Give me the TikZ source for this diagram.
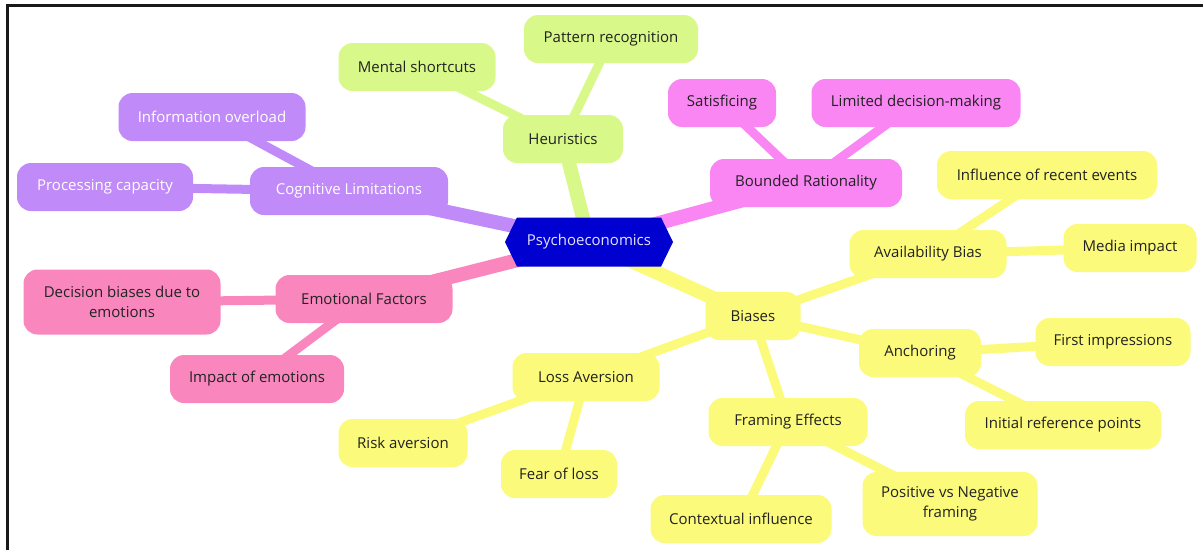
\documentclass[tikz,border=0pt]{standalone}
\usepackage{fontspec}
\setmainfont{Open Sans}
\usetikzlibrary{shapes.symbols,backgrounds}
\definecolor{cgreen}{HTML}{D8F98A}
\definecolor{cpurple}{HTML}{C08AF8}
\definecolor{cmagenta}{HTML}{F986F3}
\definecolor{cpink}{HTML}{F987BE}
\definecolor{cyellow}{HTML}{FBFA7A}
\definecolor{cblue}{HTML}{0000D0}
\definecolor{ctext}{HTML}{222222}
\definecolor{clight}{HTML}{E2E2FF}
\tikzset{
  box/.style={rounded corners=14pt, minimum height=48pt, inner sep=2pt, align=center,
    font=\fontsize{15}{20}\selectfont, text=ctext},
  gbox/.style={box, fill=cgreen},
  pbox/.style={box, fill=cpurple, text=white},
  mbox/.style={box, fill=cmagenta},
  kbox/.style={box, fill=cpink},
  ybox/.style={box, fill=cyellow},
  mainline/.style={line width=14pt},
  subline/.style={line width=9pt},
}
\begin{document}
\begin{tikzpicture}[x=1pt,y=-1pt]
\useasboundingbox (0,0) rectangle (1203,550);
\coordinate (fa) at (7,550);
\coordinate (fb) at (7,5);
\coordinate (fc) at (1203,5);
\draw[line width=3pt, black!90] (fa) -- (fb) -- (fc);

\node[signal, signal to=east and west, signal pointer angle=128, fill=cblue, text=clight,
  minimum width=168pt, minimum height=49pt, inner sep=0pt, font=\fontsize{15}{20}\selectfont] (c) at (589,242) {Psychoeconomics};

% Heuristics
\node[gbox, minimum width=120pt] (heu) at (563,139) {Heuristics};
\node[gbox, minimum width=174pt] (pat) at (611,39) {Pattern recognition};
\node[gbox, minimum width=157pt] (men) at (417,67) {Mental shortcuts};
% Cognitive
\node[pbox, minimum width=198pt] (cog) at (349,191) {Cognitive Limitations};
\node[pbox, minimum width=187pt] (inf) at (212,117) {Information overload};
\node[pbox, minimum width=176pt] (pro) at (105,187) {Processing capacity};
% Bounded
\node[mbox, minimum width=192pt] (bou) at (806,183) {Bounded Rationality};
\node[mbox, minimum width=108pt] (sat) at (722,103) {Satisficing};
\node[mbox, minimum width=209pt] (lim) at (916,103) {Limited decision-making};
% Emotional
\node[kbox, minimum width=177pt] (emo) at (364,299) {Emotional Factors};
\node[kbox, minimum width=197pt, minimum height=65pt] (dec) at (122,302) {Decision biases due to\\emotions};
\node[kbox, minimum width=174pt] (imp) at (257,379) {Impact of emotions};
% Biases
\node[ybox, minimum width=95pt] (bia) at (753,316) {Biases};
\node[ybox, minimum width=157pt] (ava) at (928,254) {Availability Bias};
\node[ybox, minimum width=220pt] (rec) at (1047,175) {Influence of recent events};
\node[ybox, minimum width=133pt] (med) at (1130,248) {Media impact};
\node[ybox, minimum width=122pt] (anc) at (920,353) {Anchoring};
\node[ybox, minimum width=155pt] (fir) at (1113,342) {First impressions};
\node[ybox, minimum width=196pt] (ini) at (1063,425) {Initial reference points};
\node[ybox, minimum width=159pt] (fra) at (788,422) {Framing Effects};
\node[ybox, minimum width=181pt] (con) at (741,519) {Contextual influence};
\node[ybox, minimum width=175pt, minimum height=64pt] (pos) at (950,504) {Positive vs Negative\\framing};
\node[ybox, minimum width=147pt] (los) at (586,377) {Loss Aversion};
\node[ybox, minimum width=129pt] (ris) at (403,443) {Risk aversion};
\node[ybox, minimum width=116pt] (fea) at (559,474) {Fear of loss};

\begin{pgfonlayer}{background}
\draw[mainline, cgreen] (c.center) -- (heu.center);
\draw[subline, cgreen] (heu.center) -- (pat.center);
\draw[subline, cgreen] (heu.center) -- (men.center);
\draw[mainline, cpurple] (c.center) -- (cog.center);
\draw[subline, cpurple] (cog.center) -- (inf.center);
\draw[subline, cpurple] (cog.center) -- (pro.center);
\draw[mainline, cmagenta] (c.center) -- (bou.center);
\draw[subline, cmagenta] (bou.center) -- (sat.center);
\draw[subline, cmagenta] (bou.center) -- (lim.center);
\draw[mainline, cpink] (c.center) -- (emo.center);
\draw[subline, cpink] (emo.center) -- (dec.center);
\draw[subline, cpink] (emo.center) -- (imp.center);
\draw[mainline, cyellow] (c.center) -- (bia.center);
\draw[subline, cyellow] (bia.center) -- (ava.center);
\draw[subline, cyellow] (ava.center) -- (rec.center);
\draw[subline, cyellow] (ava.center) -- (med.center);
\draw[subline, cyellow] (bia.center) -- (anc.center);
\draw[subline, cyellow] (anc.center) -- (fir.center);
\draw[subline, cyellow] (anc.center) -- (ini.center);
\draw[subline, cyellow] (bia.center) -- (fra.center);
\draw[subline, cyellow] (fra.center) -- (con.center);
\draw[subline, cyellow] (fra.center) -- (pos.center);
\draw[subline, cyellow] (bia.center) -- (los.center);
\draw[subline, cyellow] (los.center) -- (ris.center);
\draw[subline, cyellow] (los.center) -- (fea.center);
\end{pgfonlayer}
\end{tikzpicture}
\end{document}
